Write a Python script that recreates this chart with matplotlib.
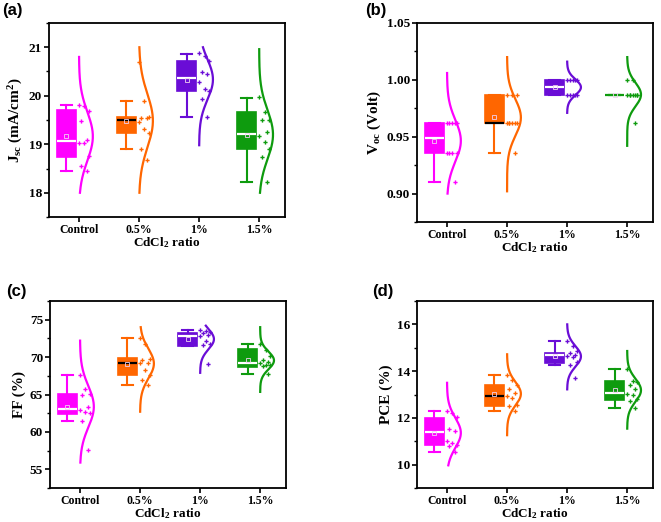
import numpy as np
import matplotlib
matplotlib.use("Agg")
import matplotlib.pyplot as plt
from matplotlib.ticker import MultipleLocator

plt.rcParams["font.family"] = ["Liberation Serif", "DejaVu Serif"]
plt.rcParams["font.weight"] = "bold"
plt.rcParams["axes.labelweight"] = "bold"
plt.rcParams["mathtext.fontset"] = "custom"
plt.rcParams["mathtext.rm"] = "Liberation Serif:bold"
plt.rcParams["mathtext.it"] = "Liberation Serif:bold"
plt.rcParams["mathtext.bf"] = "Liberation Serif:bold"
plt.rcParams["mathtext.default"] = "rm"
plt.rcParams["axes.linewidth"] = 1.3

GROUPS = ["Control", "0.5%", "1%", "1.5%"]
COLORS = ["#FF00FF", "#FF6600", "#6A0DD6", "#0E9B0E"]
MEDIAN_COLORS = ["white", "black", "white", "white"]

# individual device values
JSC_PTS = [
    [19.80, 19.78, 19.69, 19.47, 19.09, 19.02, 19.03, 18.75, 18.56, 18.44],
    [20.69, 19.90, 19.57, 19.55, 19.54, 19.45, 19.32, 19.24, 18.90, 18.68],
    [20.88, 20.81, 20.71, 20.48, 20.45, 20.28, 20.14, 20.10, 19.94, 19.56],
    [19.97, 19.66, 19.51, 19.50, 19.26, 19.18, 19.04, 18.91, 18.73, 18.22],
]
VOC_PTS = [
    [0.962, 0.962, 0.962, 0.962, 0.962, 0.936, 0.936, 0.936, 0.936, 0.910],
    [0.987, 0.987, 0.987, 0.962, 0.962, 0.962, 0.962, 0.962, 0.962, 0.936],
    [1.000, 1.000, 1.000, 1.000, 1.000, 0.987, 0.987, 0.987, 0.987, 0.987],
    [1.000, 1.000, 0.987, 0.987, 0.987, 0.987, 0.987, 0.987, 0.987, 0.962],
]
FF_PTS = [
    [67.67, 65.71, 65.04, 64.87, 63.36, 62.91, 62.60, 62.50, 61.49, 57.57],
    [72.60, 71.71, 69.80, 69.57, 69.27, 69.20, 68.33, 67.57, 66.91, 66.33],
    [73.60, 73.50, 73.30, 73.20, 72.90, 72.80, 72.20, 71.80, 71.60, 69.10],
    [71.80, 71.00, 70.20, 69.60, 69.30, 69.25, 69.00, 68.90, 68.80, 67.70],
]
PCE_PTS = [
    [12.30, 12.22, 12.02, 11.51, 11.43, 11.00, 10.94, 10.83, 10.79, 10.55],
    [13.82, 13.61, 13.42, 13.25, 13.08, 12.95, 12.85, 12.54, 12.51, 12.28],
    [15.29, 15.06, 14.85, 14.76, 14.70, 14.66, 14.62, 14.39, 14.25, 13.72],
    [14.11, 13.56, 13.52, 13.39, 13.25, 13.04, 13.00, 12.79, 12.72, 12.44],
]

# box statistics as drawn: q1, median, q3, lower whisker, upper whisker
JSC_BOX = [(18.74, 19.07, 19.70, 18.44, 19.80), (19.23, 19.50, 19.57, 18.90, 19.90),
           (20.09, 20.37, 20.72, 19.56, 20.87), (18.91, 19.22, 19.66, 18.22, 19.95)]
VOC_BOX = [(0.936, 0.949, 0.962, 0.910, 0.962), (0.962, 0.962, 0.987, 0.936, 0.987),
           (0.987, 0.9935, 1.000, 0.987, 1.000), (0.987, 0.987, 0.987, 0.987, 0.987)]
FF_BOX = [(62.37, 63.00, 65.04, 61.44, 67.67), (67.62, 69.27, 69.93, 66.33, 72.60),
          (71.49, 72.87, 73.27, 71.49, 73.67), (68.70, 69.20, 71.10, 67.70, 71.80)]
PCE_BOX = [(10.83, 11.40, 12.00, 10.55, 12.30), (12.51, 12.95, 13.42, 12.28, 13.82),
           (14.35, 14.68, 14.78, 14.25, 15.29), (12.75, 13.08, 13.56, 12.44, 14.11)]

# extent of the fitted normal curves (value axis)
JSC_CURVE = [(18.0, 20.8), (18.0, 21.0), (18.98, 21.0), (18.0, 20.96)]
VOC_CURVE = [(0.900, 1.006), (0.902, 1.020), (0.971, 1.016), (0.942, 1.020)]
FF_CURVE = [(55.9, 72.2), (62.7, 74.0), (67.9, 74.2), (65.35, 74.0)]
PCE_CURVE = [(9.97, 13.5), (11.26, 14.72), (13.22, 16.0), (11.54, 14.86)]

JITTER = [0.0, 0.09, 0.17, 0.04, 0.13, 0.0, 0.09, 0.17, 0.04, 0.13]


def draw_panel(ax, pts, box, curve, ylim, major, minor, ylabel, fmt):
    pos = np.arange(1, len(GROUPS) + 1)
    for i, (p, c) in enumerate(zip(pos, COLORS)):
        q1, med, q3, lo, hi = box[i]
        stats = [{"q1": q1, "med": med, "q3": q3, "whislo": lo, "whishi": hi,
                  "mean": np.mean(pts[i]), "fliers": []}]
        mc = MEDIAN_COLORS[i] if q3 > q1 else c
        ax.bxp(stats, positions=[p - 0.21], widths=0.32, capwidths=0.18,
               patch_artist=True, showmeans=True, showfliers=False,
               boxprops=dict(facecolor=c, edgecolor=c, linewidth=1.2),
               whiskerprops=dict(color=c, linewidth=1.5),
               capprops=dict(color=c, linewidth=1.5),
               medianprops=dict(color=mc, linewidth=1.6),
               meanprops=dict(marker="s", markersize=3, markerfacecolor="none",
                              markeredgecolor="#f0d0f0", markeredgewidth=0.6))
        vals = np.array(pts[i])
        ax.plot(p + np.array(JITTER[:len(vals)]), vals, ls="none", marker="P",
                ms=3.0, mew=0, color=c, zorder=3)
        m, s = vals.mean(), vals.std(ddof=1)
        y = np.linspace(curve[i][0], curve[i][1], 200)
        w = np.exp(-0.5 * ((y - m) / s) ** 2)
        ax.plot(p + 0.23 * w, y, color=c, lw=1.6, zorder=3)

    ax.set_xlim(0.5, 4.43)
    ax.set_ylim(*ylim)
    ax.set_xticks(pos)
    ax.set_xticklabels(GROUPS)
    ax.yaxis.set_major_locator(MultipleLocator(major))
    ax.yaxis.set_minor_locator(MultipleLocator(minor))
    ax.yaxis.set_major_formatter(fmt)
    ax.tick_params(axis="both", which="major", direction="out", length=3.5,
                   width=1.2, pad=1.5)
    ax.tick_params(axis="x", labelsize=8.5)
    ax.tick_params(axis="y", labelsize=9.5)
    ax.tick_params(axis="y", which="minor", direction="out", length=2.2, width=1.0)
    ax.set_xlabel("CdCl$_2$ ratio", fontsize=9.5, labelpad=-0.5)
    ax.set_ylabel(ylabel, fontsize=11, labelpad=3)


fig = plt.figure(figsize=(6.61, 5.22), dpi=100)
W, H = 661, 522


def axes_px(l, t, r, b):
    return fig.add_axes([l / W, 1 - b / H, (r - l) / W, (b - t) / H])


ax_a = axes_px(49, 23, 285, 217)
ax_b = axes_px(417, 23, 653, 222)
ax_c = axes_px(50, 301, 286, 488)
ax_d = axes_px(417, 301, 653, 488)

draw_panel(ax_a, JSC_PTS, JSC_BOX, JSC_CURVE, (17.5, 21.5), 1, 0.5,
           "J$_{sc}$ (mA/cm$^2$)", "{x:.0f}")
draw_panel(ax_b, VOC_PTS, VOC_BOX, VOC_CURVE, (0.875, 1.05), 0.05, 0.025,
           "V$_{oc}$ (Volt)", "{x:.2f}")
draw_panel(ax_c, FF_PTS, FF_BOX, FF_CURVE, (52.5, 77.5), 5, 2.5,
           "FF (%)", "{x:.0f}")
draw_panel(ax_d, PCE_PTS, PCE_BOX, PCE_CURVE, (9, 17), 2, 1,
           "PCE (%)", "{x:.0f}")

for lbl, x, y in [("(a)", 2, 3), ("(b)", 365, 3), ("(c)", 6, 284), ("(d)", 372, 284)]:
    fig.text(x / W, 1 - y / H, lbl, family="Liberation Sans", weight="bold",
             fontsize=12, ha="left", va="top")

fig.savefig("out.png", dpi=100)
